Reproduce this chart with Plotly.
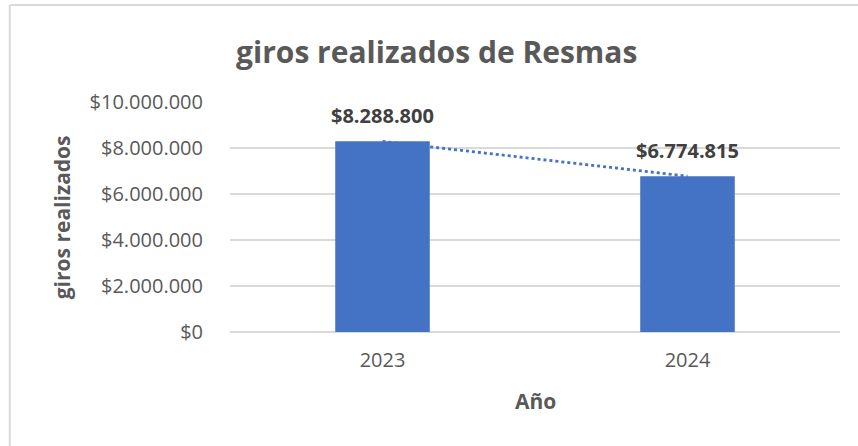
import plotly.graph_objects as go

years = ["2023", "2024"]
giros = [8288800, 6774815]
labels = ["$8.288.800", "$6.774.815"]
y_ticks = [0, 2000000, 4000000, 6000000, 8000000, 10000000]
y_tick_text = ["$0", "$2.000.000", "$4.000.000", "$6.000.000", "$8.000.000", "$10.000.000"]

BAR_COLOR = "#4472C4"
TEXT_COLOR = "#595959"
GRID_COLOR = "#D9D9D9"
FONT = "Open Sans"


def no_tex(s):
    # evita que plotly lea el signo $ como LaTeX
    return s.replace("$", "&#36;")


fig = go.Figure()

fig.add_trace(
    go.Bar(
        x=years,
        y=giros,
        width=0.31,
        marker=dict(color=BAR_COLOR, line=dict(width=0)),
        hoverinfo="skip",
    )
)

# linea de tendencia punteada
fig.add_trace(
    go.Scatter(
        x=years,
        y=giros,
        mode="lines",
        line=dict(color=BAR_COLOR, width=2.8, dash="dot"),
        hoverinfo="skip",
    )
)

# en eje de categorias la anotacion va por indice
for i, (value, text) in enumerate(zip(giros, labels)):
    fig.add_annotation(
        x=i,
        y=value,
        text="<b>" + no_tex(text) + "</b>",
        showarrow=False,
        yanchor="bottom",
        yshift=10,
        font=dict(family=FONT, size=20, color="#404040"),
    )

fig.add_annotation(
    text="<b>giros realizados</b>",
    xref="paper",
    yref="paper",
    x=-0.275,
    y=0.5,
    textangle=-90,
    showarrow=False,
    xanchor="center",
    yanchor="middle",
    font=dict(family=FONT, size=21, color=TEXT_COLOR),
)

fig.add_annotation(
    text="<b>Año</b>",
    xref="paper",
    yref="paper",
    x=0.5,
    y=-0.3,
    showarrow=False,
    xanchor="center",
    yanchor="middle",
    font=dict(family=FONT, size=21, color=TEXT_COLOR),
)

# borde del grafico
fig.add_shape(
    type="line",
    xref="paper",
    yref="paper",
    x0=-0.361,
    y0=1.4217,
    x1=1.05,
    y1=1.4217,
    line=dict(color=GRID_COLOR, width=2),
)
fig.add_shape(
    type="line",
    xref="paper",
    yref="paper",
    x0=-0.361,
    y0=1.4217,
    x1=-0.361,
    y1=-0.5,
    line=dict(color=GRID_COLOR, width=2),
)

fig.update_layout(
    width=858,
    height=446,
    margin=dict(l=230, r=18, t=102, b=114),
    paper_bgcolor="white",
    plot_bgcolor="white",
    showlegend=False,
    title=dict(
        text="<b>giros realizados de Resmas</b>",
        x=0.509,
        xref="container",
        xanchor="center",
        y=1 - 52 / 446,
        yref="container",
        yanchor="middle",
        font=dict(family=FONT, size=30, color=TEXT_COLOR),
    ),
    xaxis=dict(
        type="category",
        range=[-0.5, 1.5],
        showgrid=False,
        showline=False,
        ticks="",
        ticklabelstandoff=14,
        tickfont=dict(family=FONT, size=20, color=TEXT_COLOR),
    ),
    yaxis=dict(
        range=[0, 10000000],
        tickvals=y_ticks,
        ticktext=[no_tex(t) for t in y_tick_text],
        showgrid=True,
        gridcolor=GRID_COLOR,
        gridwidth=1.5,
        zeroline=True,
        zerolinecolor=GRID_COLOR,
        zerolinewidth=1.5,
        showline=False,
        ticks="",
        ticklabelstandoff=26,
        tickfont=dict(family=FONT, size=20, color=TEXT_COLOR),
    ),
)

fig.write_html(
    "out.html",
    config={"displayModeBar": False},
    post_script="document.body.style.margin = '0';",
)
